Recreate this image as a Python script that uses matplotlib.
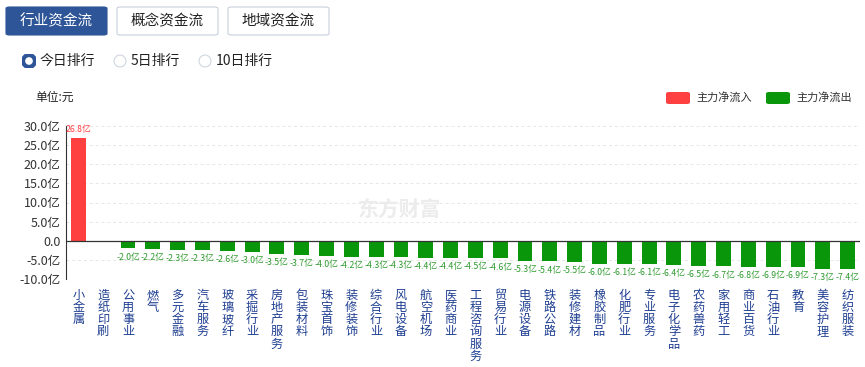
import matplotlib
matplotlib.use('Agg')
import matplotlib.pyplot as plt
from matplotlib.patches import FancyBboxPatch, Circle
import numpy as np

plt.rcParams['font.family'] = ['Noto Sans CJK SC', 'DejaVu Sans']

categories = ['小金属', '造纸印刷', '公用事业', '燃气', '多元金融', '汽车服务', '玻璃玻纤',
              '采掘行业', '房地产服务', '包装材料', '珠宝首饰', '装修装饰', '综合行业',
              '风电设备', '航空机场', '医药商业', '工程咨询服务', '贸易行业', '电源设备',
              '铁路公路', '装修建材', '橡胶制品', '化肥行业', '专业服务', '电子化学品',
              '农药兽药', '家用轻工', '商业百货', '石油行业', '教育', '美容护理', '纺织服装']
values = [26.8, -0.02, -2.0, -2.2, -2.3, -2.3, -2.6, -3.0, -3.5, -3.7, -4.0, -4.2, -4.3,
          -4.3, -4.4, -4.4, -4.5, -4.6, -5.3, -5.4, -5.5, -6.0, -6.1, -6.1, -6.4, -6.5,
          -6.7, -6.8, -6.9, -6.9, -7.3, -7.4]
yticks = [-10, -5, 0, 5, 10, 15, 20, 25, 30]
tabs = ['行业资金流', '概念资金流', '地域资金流']
radios = ['今日排行', '5日排行', '10日排行']
legend_names = ['主力净流入', '主力净流出']

RED = '#ff4040'
GREEN = '#0a960a'
BLUE = '#2d5597'
W, H = 865, 367

fig = plt.figure(figsize=(W / 100, H / 100), dpi=100)


def fx(x):
    return x / W


def fy(y):
    return 1 - y / H


# tabs
tab_x = [6, 117, 228]
for i, (t, x0) in enumerate(zip(tabs, tab_x)):
    active = i == 0
    box = FancyBboxPatch((fx(x0), fy(35)), fx(101), 28 / H,
                         boxstyle='round,pad=0,rounding_size=0.004',
                         transform=fig.transFigure,
                         facecolor=BLUE if active else 'white',
                         edgecolor=BLUE if active else '#c8d0dc', linewidth=0.8)
    fig.patches.append(box)
    fig.text(fx(x0 + 50.5), fy(21), t, ha='center', va='center', fontsize=10.5,
             color='white' if active else '#222222')

# radio buttons
radio_x = [29, 120, 205]
for i, (r, x0) in enumerate(zip(radios, radio_x)):
    ax_c = fig.add_axes([fx(x0 - 7), fy(68), 14 / W, 14 / H])
    ax_c.set_xlim(-1, 1)
    ax_c.set_ylim(-1, 1)
    ax_c.set_aspect('equal')
    ax_c.axis('off')
    if i == 0:
        ax_c.add_patch(Circle((0, 0), 0.85, facecolor='white', edgecolor=BLUE, linewidth=3.0))
    else:
        ax_c.add_patch(Circle((0, 0), 0.85, facecolor='white', edgecolor='#cfd6e0', linewidth=0.8))
    fig.text(fx(x0 + 11), fy(61), r, ha='left', va='center', fontsize=10, color='#222222')

# unit + legend
fig.text(fx(35), fy(97), '单位:元', ha='left', va='center', fontsize=8.5, color='#222222')
for name, color, x0 in zip(legend_names, [RED, GREEN], [666, 766]):
    p = FancyBboxPatch((fx(x0), fy(104)), fx(24), 12 / H,
                       boxstyle='round,pad=0,rounding_size=0.004',
                       transform=fig.transFigure, facecolor=color, edgecolor='none')
    fig.patches.append(p)
    fig.text(fx(x0 + 30), fy(97.5), name, ha='left', va='center', fontsize=8, color='#333333')

# main chart
ax = fig.add_axes([fx(66), fy(279), fx(860 - 66), (279 - 126) / H])
x = np.arange(len(categories))
colors = [RED if v > 0 else GREEN for v in values]
ax.bar(x, values, width=0.6, color=colors, zorder=3)
ax.set_xlim(-0.5, len(categories) - 0.5)
ax.set_ylim(-10, 30)
ax.set_yticks(yticks)
ax.set_yticklabels([('%.1f亿' % v) if v != 0 else '0.0' for v in yticks],
                   fontsize=9, color='#333333')
ax.tick_params(axis='y', length=0, pad=4)
ax.set_xticks(x)
ax.set_xticklabels(['\n'.join(c) for c in categories], fontsize=8.8, color='#1f3f91',
                   va='top', linespacing=0.92)
ax.tick_params(axis='x', length=0, pad=7)
for s in ['top', 'right', 'bottom']:
    ax.spines[s].set_visible(False)
ax.spines['left'].set_color('#333333')
ax.spines['left'].set_linewidth(0.8)
ax.axhline(0, color='#333333', linewidth=0.9, zorder=4)
for yv in yticks:
    if yv != 0:
        ax.axhline(yv, color='#e6e6e6', linewidth=0.7, linestyle=(0, (3, 3)), zorder=1)

for xi, v in zip(x, values):
    if abs(v) < 0.05:
        continue
    if v > 0:
        ax.annotate('%.1f亿' % v, (xi, v), xytext=(0, 3), textcoords='offset points',
                    ha='center', va='bottom', fontsize=6.3, color=RED)
    else:
        ax.annotate('%.1f亿' % v, (xi, v), xytext=(0, -3), textcoords='offset points',
                    ha='center', va='top', fontsize=6.3, color='#2e9a2e')

# watermark
fig.text(fx(400), fy(210), '东方财富', ha='center', va='center', fontsize=15,
         fontweight='bold', color='#ececec', zorder=0)

fig.savefig('out.png', dpi=100)
